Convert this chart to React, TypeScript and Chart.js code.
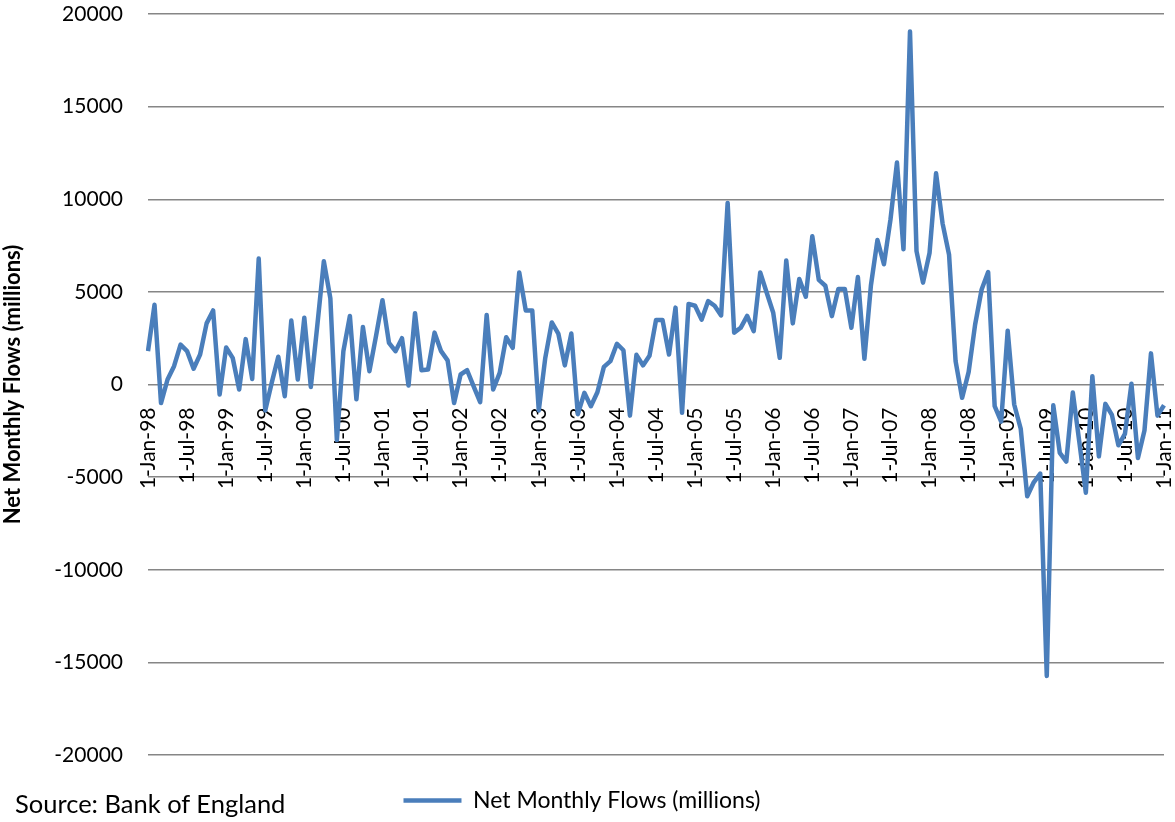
import { useEffect, useRef } from 'react';
import { Chart, registerables } from 'chart.js';

Chart.register(...registerables);

// Month names and two-digit years used to build the "1-Mon-YY" category labels.
const MONTHS = ['Jan', 'Feb', 'Mar', 'Apr', 'May', 'Jun', 'Jul', 'Aug', 'Sep', 'Oct', 'Nov', 'Dec'];
const YEARS = ['98', '99', '00', '01', '02', '03', '04', '05', '06', '07', '08', '09', '10', '11'];

// Net monthly flows, Jan 1998 – Jan 2011 (£ millions).
const NET_FLOWS = [
  1800, 4300, -1000, 270, 990, 2150, 1800, 850, 1620, 3300, 4000, -540,
  2000, 1440, -270, 2450, 300, 6800, -1400, 100, 1500, -630, 3450, 270,
  3600, -130, 3200, 6650, 4650, -3000, 1800, 3700, -800, 3100, 720, 2600,
  4550, 2250, 1800, 2500, -50, 3850, 770, 810, 2800, 1800, 1300, -1000,
  540, 770, -100, -950, 3750, -270, 630, 2550, 1980, 6050, 4000, 4000,
  -1400, 1440, 3350, 2750, 1030, 2750, -1600, -450, -1170, -420, 950, 1260,
  2200, 1850, -1680, 1600, 1030, 1550, 3480, 3480, 1620, 4150, -1530, 4350,
  4250, 3500, 4500, 4250, 3730, 9800, 2800, 3060, 3700, 2880, 6050, 4950,
  3870, 1440, 6700, 3300, 5700, 4740, 8000, 5650, 5330, 3690, 5150, 5150,
  3060, 5800, 1390, 5350, 7800, 6490, 8900, 11980, 7300, 19050, 7200, 5500,
  7100, 11400, 8700, 7000, 1260, -720, 670, 3240, 5130, 6070, -1170, -2000,
  2900, -1080, -2390, -6030, -5280, -4810, -15730, -1120, -3690, -4160, -430, -3100,
  -5840, 450, -3880, -1045, -1640, -3280, -2670, 40, -3970, -2480, 1680, -1680,
  -1120,
];

const Y_TICKS = [-20000, -15000, -10000, -5000, 0, 5000, 10000, 15000, 20000];

const SERIES_NAME = 'Net Monthly Flows (millions)';
const SOURCE_NOTE = 'Source: Bank of England';

const CATEGORIES = YEARS.flatMap((y) => MONTHS.map((m) => `1-${m}-${y}`)).slice(0, NET_FLOWS.length);

const LINE_BLUE = '#4a7ebb';
const GRID_GREY = '#868686';
const FONT = 'Lato, "Liberation Sans", sans-serif';

export default function App() {
  const canvasRef = useRef<HTMLCanvasElement | null>(null);

  useEffect(() => {
    if (!canvasRef.current) return;
    const chart = new Chart(canvasRef.current, {
      type: 'line',
      data: {
        labels: CATEGORIES,
        datasets: [
          {
            label: SERIES_NAME,
            data: NET_FLOWS,
            borderColor: LINE_BLUE,
            backgroundColor: LINE_BLUE,
            borderWidth: 4.5,
            pointRadius: 0,
            pointHoverRadius: 0,
            tension: 0,
            fill: false,
            borderJoinStyle: 'round',
          },
        ],
      },
      options: {
        animation: false,
        responsive: true,
        maintainAspectRatio: false,
        font: { family: FONT },
        layout: { padding: { left: 0, right: 11, top: 14, bottom: 0 } },
        plugins: {
          tooltip: { enabled: false },
          legend: {
            position: 'bottom',
            labels: {
              usePointStyle: true,
              pointStyle: 'line',
              pointStyleWidth: 58,
              padding: 34,
              color: '#000',
              font: { family: FONT, size: 23 },
            },
          },
        },
        scales: {
          x: {
            type: 'category',
            position: { y: 0 },
            offset: false,
            grid: { display: false, drawTicks: false },
            border: { display: false },
            afterFit: (scale: any) => {
              scale.paddingLeft = 0;
              scale.paddingRight = 0;
            },
            ticks: {
              autoSkip: false,
              maxRotation: 90,
              minRotation: 90,
              padding: 23,
              color: '#000',
              font: { family: FONT, size: 21 },
              callback: (_v: any, i: number) => (i % 6 === 0 ? CATEGORIES[i] : ''),
            },
          },
          y: {
            min: -20000,
            max: 20000,
            afterBuildTicks: (scale: any) => {
              scale.ticks = Y_TICKS.map((v) => ({ value: v }));
            },
            afterFit: (scale: any) => {
              scale.width = 148;
              scale.paddingTop = 0;
              scale.paddingBottom = 0;
            },
            grid: { color: GRID_GREY, lineWidth: 1.5, drawTicks: false },
            border: { display: false },
            ticks: {
              padding: 25,
              color: '#000',
              font: { family: FONT, size: 21 },
              callback: (v: any) => String(v),
            },
            title: {
              display: true,
              text: SERIES_NAME,
              color: '#000',
              padding: { top: 0, bottom: 0 },
              font: { family: FONT, size: 22, weight: 'bold' },
            },
          },
        },
      },
    });
    return () => chart.destroy();
  }, []);

  return (
    <div style={{ position: 'fixed', left: 0, top: 0, width: 1175, height: 822, background: '#fff' }}>
      <canvas ref={canvasRef} />
      <div
        style={{
          position: 'absolute',
          left: 15,
          top: 788,
          fontFamily: FONT,
          fontSize: 25.5,
          lineHeight: '30px',
          color: '#000',
          whiteSpace: 'nowrap',
        }}
      >
        {SOURCE_NOTE}
      </div>
    </div>
  );
}
